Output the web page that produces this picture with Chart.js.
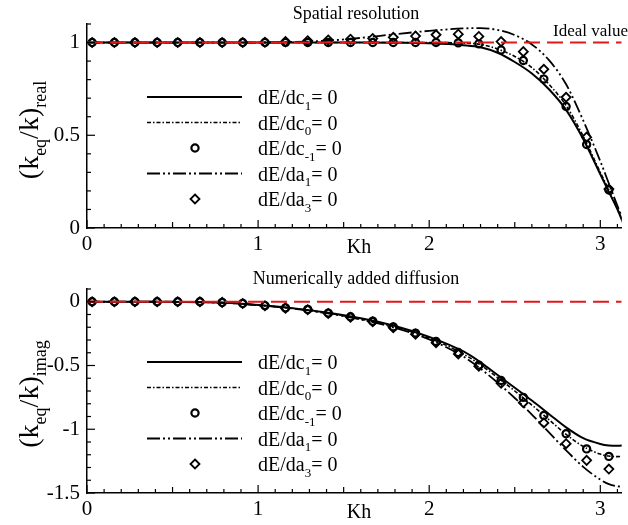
<!DOCTYPE html>
<html>
<head>
<meta charset="utf-8">
<script src="https://cdn.jsdelivr.net/npm/chart.js@4"></script>
<style>
  body { margin: 0; background: #fff; }
  #wrap { position: relative; width: 628px; height: 525px; }
  canvas { position: absolute; left: 0; }
</style>
</head>
<body>
<div id="wrap">
  <canvas id="realChart" width="628" height="262" style="top:0"></canvas>
  <canvas id="imagChart" width="628" height="263" style="top:262px"></canvas>
</div>
<script>
// --- data ---
const markerKh = [0.03, 0.16, 0.28, 0.41, 0.53, 0.66, 0.79, 0.91, 1.04, 1.16, 1.29, 1.41, 1.54,
                  1.67, 1.79, 1.92, 2.04, 2.17, 2.29, 2.42, 2.55, 2.67, 2.80, 2.92, 3.05];
const lineKh = [0, 0.4, 0.8, 1.0, 1.2, 1.4, 1.6, 1.8, 2.0, 2.2, 2.3, 2.4, 2.5, 2.6, 2.7, 2.8,
                2.9, 3.0, 3.05, 3.1, 3.14];

// real part (spatial resolution)
const realC1  = [1, 1, 1, 1, 1, 1, 1, 0.999, 0.996, 0.986, 0.975, 0.945, 0.895, 0.833, 0.748, 0.637,
                 0.48, 0.29, 0.195, 0.1, 0.01];
const realC0  = [1, 1, 1, 1, 1, 1, 1, 1, 1, 0.997, 0.99, 0.965, 0.925, 0.865, 0.775, 0.66,
                 0.495, 0.3, 0.205, 0.105, 0.02];
const realA1  = [1, 1, 1, 1, 1.003, 1.01, 1.025, 1.045, 1.063, 1.076, 1.078, 1.068, 1.04, 0.99, 0.905, 0.775,
                 0.58, 0.36, 0.24, 0.12, 0.03];
const realCm1 = [1, 1, 1, 1, 1, 1, 1, 1, 1, 1, 1, 1, 1, 1, 1, 1, 1, 0.998, 0.993, 0.96, 0.903,
                 0.803, 0.655, 0.45, 0.205];
const realA3  = [1, 1, 1, 1, 1, 1, 1, 1, 1.002, 1.005, 1.01, 1.014, 1.018, 1.022, 1.028, 1.035, 1.042,
                 1.045, 1.033, 1.005, 0.951, 0.856, 0.705, 0.49, 0.21];

// imaginary part (numerically added diffusion)
const imagC1  = [0, 0, -0.008, -0.025, -0.05, -0.085, -0.13, -0.19, -0.275, -0.39, -0.475, -0.575, -0.675,
                 -0.775, -0.88, -0.985, -1.07, -1.115, -1.127, -1.13, -1.125];
const imagC0  = [0, 0, -0.008, -0.027, -0.052, -0.088, -0.135, -0.198, -0.285, -0.41, -0.495, -0.595, -0.70,
                 -0.81, -0.925, -1.04, -1.135, -1.195, -1.21, -1.215, -1.21];
const imagA1  = [0, 0, -0.008, -0.027, -0.053, -0.09, -0.14, -0.205, -0.295, -0.43, -0.525, -0.635, -0.755,
                 -0.885, -1.025, -1.165, -1.295, -1.395, -1.43, -1.447, -1.45];
const imagCm1 = [0, 0, 0, 0, 0, 0, -0.005, -0.013, -0.03, -0.048, -0.06, -0.089, -0.118, -0.152, -0.197,
                 -0.246, -0.312, -0.398, -0.497, -0.618, -0.75, -0.892, -1.035, -1.154, -1.213];
const imagA3  = [0, 0, 0, 0, 0, 0, -0.005, -0.014, -0.031, -0.05, -0.063, -0.092, -0.122, -0.157, -0.203,
                 -0.254, -0.322, -0.41, -0.505, -0.64, -0.792, -0.95, -1.113, -1.244, -1.312];

const idealKh = [0, 3.125];
const idealReal = [1, 1];
const idealImag = [0, 0];

const xTickLabels = [0, 1, 2, 3];
const realTickLabels = [0, 0.5, 1];
const imagTickLabels = [-1.5, -1, -0.5, 0];
const legendParts = [
  [['dE/dc', 0], ['1', 1], ['= 0', 0]],
  [['dE/dc', 0], ['0', 1], ['= 0', 0]],
  [['dE/dc', 0], ['-1', 1], ['= 0', 0]],
  [['dE/da', 0], ['1', 1], ['= 0', 0]],
  [['dE/da', 0], ['3', 1], ['= 0', 0]]
];

const SERIF = '"Liberation Serif", "Times New Roman", serif';
const pts = (xs, ys) => xs.map((x, i) => ({ x: x, y: ys[i] }));

function buildDatasets(ideal, c1, c0, cm1, a1, a3) {
  // first dataset is drawn on top
  return [
    { data: pts(idealKh, ideal), borderColor: '#e0191b', borderWidth: 2, borderDash: [16, 7], pointRadius: 0 },
    { data: pts(lineKh, c1), borderColor: '#000', borderWidth: 2, pointRadius: 0, cubicInterpolationMode: 'monotone' },
    { data: pts(lineKh, c0), borderColor: '#000', borderWidth: 1.6, borderDash: [4, 2, 1.5, 2],
      pointRadius: 0, cubicInterpolationMode: 'monotone' },
    { data: pts(markerKh, cm1), showLine: false, pointStyle: 'circle', pointRadius: 3.6, pointBorderWidth: 2.2,
      pointBorderColor: '#000', pointBackgroundColor: 'rgba(255,255,255,0)' },
    { data: pts(lineKh, a1), borderColor: '#000', borderWidth: 1.8, borderDash: [13, 3, 2, 3, 2, 3],
      pointRadius: 0, cubicInterpolationMode: 'monotone' },
    { data: pts(markerKh, a3), showLine: false, pointStyle: 'rectRot', pointRadius: 4.5, pointBorderWidth: 1.8,
      pointBorderColor: '#000', pointBackgroundColor: 'rgba(255,255,255,0)' }
  ];
}

// text with subscripts
function richWidth(ctx, parts, size) {
  let w = 0;
  for (const [t, sub] of parts) {
    ctx.font = (sub ? Math.round(size * 0.64) : size) + 'px ' + SERIF;
    w += ctx.measureText(t).width;
  }
  return w;
}
function drawRich(ctx, parts, x, y, size) {
  let cx = x;
  for (const [t, sub] of parts) {
    ctx.font = (sub ? Math.round(size * 0.64) : size) + 'px ' + SERIF;
    ctx.fillText(t, cx, sub ? y + size * 0.28 : y);
    cx += ctx.measureText(t).width;
  }
}

const decor = {
  id: 'decor',
  afterDatasetsDraw(chart, args, opts) {
    const { ctx, chartArea: a } = chart;
    const xs = chart.scales.x, ys = chart.scales.y;
    ctx.save();
    ctx.strokeStyle = '#000';
    ctx.fillStyle = '#000';
    ctx.lineWidth = 1.2;
    ctx.setLineDash([]);

    // inward ticks
    for (let i = Math.ceil(xs.min * 10 - 1e-6); i <= Math.floor(xs.max * 10 + 1e-6); i++) {
      const px = xs.getPixelForValue(i / 10);
      const len = i % 10 === 0 ? 8 : (i % 5 === 0 ? 6 : 4);
      ctx.beginPath(); ctx.moveTo(px, a.bottom); ctx.lineTo(px, a.bottom - len); ctx.stroke();
    }
    for (let i = Math.ceil(ys.min * 10 - 1e-6); i <= Math.floor(ys.max * 10 + 1e-6); i++) {
      const py = ys.getPixelForValue(i / 10);
      const len = i % 5 === 0 ? 8 : 4;
      ctx.beginPath(); ctx.moveTo(a.left, py); ctx.lineTo(a.left + len, py); ctx.stroke();
    }

    // title
    ctx.textBaseline = 'alphabetic';
    ctx.textAlign = 'center';
    ctx.font = '18px ' + SERIF;
    ctx.fillText(opts.title, 356, a.top - 5);

    // x title
    ctx.font = '20px ' + SERIF;
    ctx.fillText('Kh', 359, a.bottom + 25);

    // y title (rotated, with subscripts)
    ctx.textAlign = 'left';
    const ySize = 28;
    const yw = richWidth(ctx, opts.yTitle, ySize);
    ctx.save();
    ctx.translate(38, a.top + opts.yTitleMid);
    ctx.rotate(-Math.PI / 2);
    drawRich(ctx, opts.yTitle, -yw / 2, 0, ySize);
    ctx.restore();

    if (opts.idealLabel) {
      ctx.font = '17px ' + SERIF;
      ctx.fillText('Ideal value', 553, a.top + 12);
    }

    // legend
    const sets = chart.data.datasets.slice(1);
    sets.forEach((ds, i) => {
      const ry = a.top + 73 + i * 25.5;
      ctx.save();
      if (ds.showLine === false) {
        ctx.lineWidth = ds.pointBorderWidth;
        ctx.beginPath();
        if (ds.pointStyle === 'circle') {
          ctx.arc(195, ry, ds.pointRadius, 0, Math.PI * 2);
        } else {
          const r = ds.pointRadius;
          ctx.moveTo(195, ry - r); ctx.lineTo(195 + r, ry); ctx.lineTo(195, ry + r); ctx.lineTo(195 - r, ry);
          ctx.closePath();
        }
        ctx.stroke();
      } else {
        ctx.lineWidth = ds.borderWidth;
        ctx.setLineDash(ds.borderDash || []);
        ctx.beginPath(); ctx.moveTo(147, ry); ctx.lineTo(242, ry); ctx.stroke();
      }
      ctx.restore();
      drawRich(ctx, legendParts[i], 258, ry + 7, 20);
    });
    ctx.restore();
  }
};

function makeChart(id, datasets, yMin, yMax, yLabels, padTop, xHeight, title, yTitle, yTitleMid, idealLabel) {
  return new Chart(document.getElementById(id), {
    type: 'line',
    data: { datasets: datasets },
    plugins: [decor],
    options: {
      responsive: false,
      animation: false,
      layout: { padding: { top: padTop, right: 0, left: 0, bottom: 0 } },
      plugins: {
        legend: { display: false },
        tooltip: { enabled: false },
        decor: { title: title, yTitle: yTitle, yTitleMid: yTitleMid, idealLabel: idealLabel }
      },
      scales: {
        x: {
          type: 'linear', min: 0, max: 3.125,
          grid: { display: false, drawTicks: false },
          border: { display: true, color: '#000', width: 1.5 },
          ticks: {
            stepSize: 1, includeBounds: false, autoSkip: false, maxRotation: 0, padding: 4,
            color: '#000', font: { family: SERIF, size: 21 },
            callback: v => xTickLabels.includes(v) ? String(v) : ''
          },
          afterFit: s => { s.height = xHeight; }
        },
        y: {
          type: 'linear', min: yMin, max: yMax,
          grid: { display: false, drawTicks: false },
          border: { display: true, color: '#000', width: 1.5 },
          ticks: {
            stepSize: 0.5, includeBounds: false, padding: 7,
            color: '#000', font: { family: SERIF, size: 21 },
            callback: v => yLabels.includes(v) ? String(v) : ''
          },
          afterFit: s => { s.width = 87; }
        }
      }
    }
  });
}

makeChart('realChart', buildDatasets(idealReal, realC1, realC0, realCm1, realA1, realA3),
  0, 1.1, realTickLabels, 24, 34, 'Spatial resolution',
  [['(k', 0], ['eq', 1], ['/k)', 0], ['real', 1]], 106, true);

makeChart('imagChart', buildDatasets(idealImag, imagC1, imagC0, imagCm1, imagA1, imagA3),
  -1.5, 0.1, imagTickLabels, 27, 32, 'Numerically added diffusion',
  [['(k', 0], ['eq', 1], ['/k)', 0], ['imag', 1]], 105, false);
</script>
</body>
</html>
